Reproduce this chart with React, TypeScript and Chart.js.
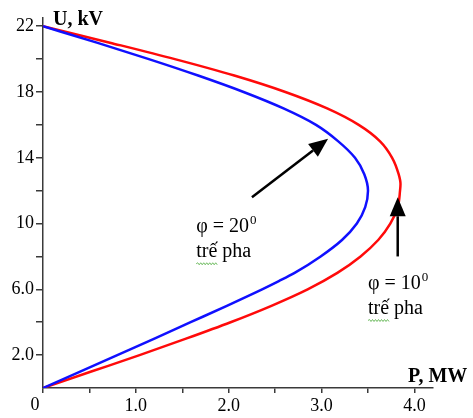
import { useEffect, useRef } from 'react';
import { Chart, registerables } from 'chart.js';

Chart.register(...registerables);

// Receiving-end voltage U (kV) and the active power P (MW) delivered at that voltage.
// U rises monotonically along each curve, so it serves as the index axis.
const PHI20_U = [0, 1, 2, 3, 4, 5, 6, 6.5, 7, 8, 9, 10, 11, 12, 13, 14, 15, 16, 17, 18, 19, 20, 21, 22];
const PHI20_P = [0, 0.4, 0.8, 1.2, 1.59, 1.98, 2.36, 2.54, 2.71, 2.99, 3.22, 3.38, 3.47, 3.5, 3.46, 3.36, 3.18, 2.94, 2.59, 2.16, 1.67, 1.14, 0.58, 0];

const PHI10_U = [0, 1, 2, 3, 4, 5, 6, 7, 8, 9, 10, 11, 12, 12.4, 13, 14, 15, 16, 17, 18, 19, 20, 21, 22];
const PHI10_P = [0, 0.52, 1.04, 1.54, 2.02, 2.46, 2.85, 3.17, 3.42, 3.61, 3.74, 3.82, 3.845, 3.85, 3.83, 3.76, 3.63, 3.4, 3.06, 2.61, 2.06, 1.42, 0.72, 0];

const X_TICKS = [0, 0.5, 1, 1.5, 2, 2.5, 3, 3.5, 4];
const X_LABELS = ['', '', '1.0', '', '2.0', '', '3.0', '', '4.0'];
const Y_TICKS = [2, 4, 6, 8, 10, 12, 14, 16, 18, 20, 22];
const Y_LABELS = ['2.0', '', '6.0', '', '10', '', '14', '', '18', '', '22'];

const AXIS_COLOR = '#3a3a3a';
const SERIF = "'Liberation Serif', 'Times New Roman', serif";

const toPoints = (ps: number[], us: number[]) => us.map((u, i) => ({ x: ps[i], y: u }));

function drawArrow(ctx: CanvasRenderingContext2D, x0: number, y0: number, x1: number, y1: number) {
  const ang = Math.atan2(y1 - y0, x1 - x0);
  const headLen = 19;
  const headHalf = 8;
  const bx = x1 - headLen * Math.cos(ang);
  const by = y1 - headLen * Math.sin(ang);
  ctx.strokeStyle = '#000';
  ctx.lineWidth = 2.5;
  ctx.beginPath();
  ctx.moveTo(x0, y0);
  ctx.lineTo(bx, by);
  ctx.stroke();
  ctx.fillStyle = '#000';
  ctx.beginPath();
  ctx.moveTo(x1, y1);
  ctx.lineTo(bx + headHalf * Math.sin(ang), by - headHalf * Math.cos(ang));
  ctx.lineTo(bx - headHalf * Math.sin(ang), by + headHalf * Math.cos(ang));
  ctx.closePath();
  ctx.fill();
}

function drawSquiggle(ctx: CanvasRenderingContext2D, x0: number, x1: number, y: number) {
  ctx.strokeStyle = '#6dbb5f';
  ctx.lineWidth = 1;
  ctx.beginPath();
  let up = true;
  ctx.moveTo(x0, y);
  for (let x = x0 + 1.5; x <= x1; x += 1.5) {
    ctx.lineTo(x, up ? y - 1 : y + 1);
    up = !up;
  }
  ctx.stroke();
}

function drawPhiLabel(ctx: CanvasRenderingContext2D, x: number, y: number, deg: string) {
  ctx.fillStyle = '#000';
  ctx.textAlign = 'left';
  ctx.textBaseline = 'alphabetic';
  ctx.font = `20px ${SERIF}`;
  const main = `\u03c6 = ${deg}`;
  ctx.fillText(main, x, y);
  const w = ctx.measureText(main).width;
  ctx.font = `13px ${SERIF}`;
  ctx.fillText('0', x + w + 1, y - 8);
  ctx.font = `20px ${SERIF}`;
  ctx.fillText('tr\u1ebf pha', x, y + 25);
  const tw = ctx.measureText('tr\u1ebf').width;
  drawSquiggle(ctx, x, x + tw, y + 32);
}

const annotations = {
  id: 'annotations',
  afterDraw(chart: any) {
    const { ctx, chartArea } = chart;
    const xs = chart.scales.x;
    const ys = chart.scales.y;
    const px = (v: number) => xs.getPixelForValue(v);
    const py = (v: number) => ys.getPixelForValue(v);
    ctx.save();

    // axis titles
    ctx.fillStyle = '#000';
    ctx.textBaseline = 'alphabetic';
    ctx.textAlign = 'left';
    ctx.font = `bold 20px ${SERIF}`;
    ctx.fillText('U, kV', chartArea.left + 10, chartArea.top + 7);
    ctx.fillText('P, MW', chartArea.right - 25, chartArea.bottom - 6);

    // origin label
    ctx.font = `18px ${SERIF}`;
    ctx.textAlign = 'center';
    ctx.fillText('0', chartArea.left - 8, chartArea.bottom + 22);

    // arrows pointing at each curve
    drawArrow(ctx, px(2.25), py(11.6), px(3.07), py(15.15));
    drawArrow(ctx, px(3.82), py(8.0), px(3.82), py(11.6));

    drawPhiLabel(ctx, px(1.65), py(9.5), '20');
    drawPhiLabel(ctx, px(3.5), py(6.05), '10');

    ctx.restore();
  },
};

export default function App() {
  const canvasRef = useRef<HTMLCanvasElement | null>(null);

  useEffect(() => {
    const canvas = canvasRef.current;
    if (!canvas) return;
    const tickFont = { family: SERIF, size: 18 };
    const chart = new Chart(canvas, {
      type: 'line',
      data: {
        datasets: [
          {
            label: '\u03c6 = 20\u00b0',
            data: toPoints(PHI20_P, PHI20_U),
            borderColor: '#1010ff',
            borderWidth: 2.5,
            pointRadius: 0,
            cubicInterpolationMode: 'monotone',
            fill: false,
          },
          {
            label: '\u03c6 = 10\u00b0',
            data: toPoints(PHI10_P, PHI10_U),
            borderColor: '#ff0a0a',
            borderWidth: 2.5,
            pointRadius: 0,
            cubicInterpolationMode: 'monotone',
            fill: false,
          },
        ],
      },
      options: {
        indexAxis: 'y',
        responsive: false,
        animation: false,
        devicePixelRatio: 1,
        layout: { padding: { left: 0, right: 40, top: 18, bottom: 0 } },
        plugins: {
          legend: { display: false },
          tooltip: { enabled: false },
        },
        scales: {
          x: {
            type: 'linear',
            position: 'bottom',
            min: 0,
            max: 4.2,
            afterBuildTicks: (axis: any) => {
              axis.ticks = X_TICKS.map((v) => ({ value: v }));
            },
            afterFit: (axis: any) => {
              axis.height = 30;
            },
            border: { color: AXIS_COLOR, width: 1.5 },
            grid: { drawOnChartArea: false, drawTicks: true, tickLength: 5, color: AXIS_COLOR, lineWidth: 1.5 },
            ticks: {
              autoSkip: false,
              maxRotation: 0,
              padding: 2,
              color: '#000',
              font: tickFont,
              callback: (_v: any, i: number) => X_LABELS[i],
            },
          },
          y: {
            type: 'linear',
            position: 'left',
            min: 0,
            max: 22.5,
            afterBuildTicks: (axis: any) => {
              axis.ticks = Y_TICKS.map((v) => ({ value: v }));
            },
            afterFit: (axis: any) => {
              axis.width = 43;
            },
            border: { color: AXIS_COLOR, width: 1.5 },
            grid: { drawOnChartArea: false, drawTicks: true, tickLength: 7, color: AXIS_COLOR, lineWidth: 1.5 },
            ticks: {
              autoSkip: false,
              padding: 2,
              color: '#000',
              font: tickFont,
              callback: (_v: any, i: number) => Y_LABELS[i],
            },
          },
        },
      },
      plugins: [annotations],
    });
    return () => chart.destroy();
  }, []);

  return (
    <div style={{ position: 'fixed', left: 0, top: 0, width: 473, height: 418, background: '#fff' }}>
      <canvas ref={canvasRef} width={473} height={418} />
    </div>
  );
}
